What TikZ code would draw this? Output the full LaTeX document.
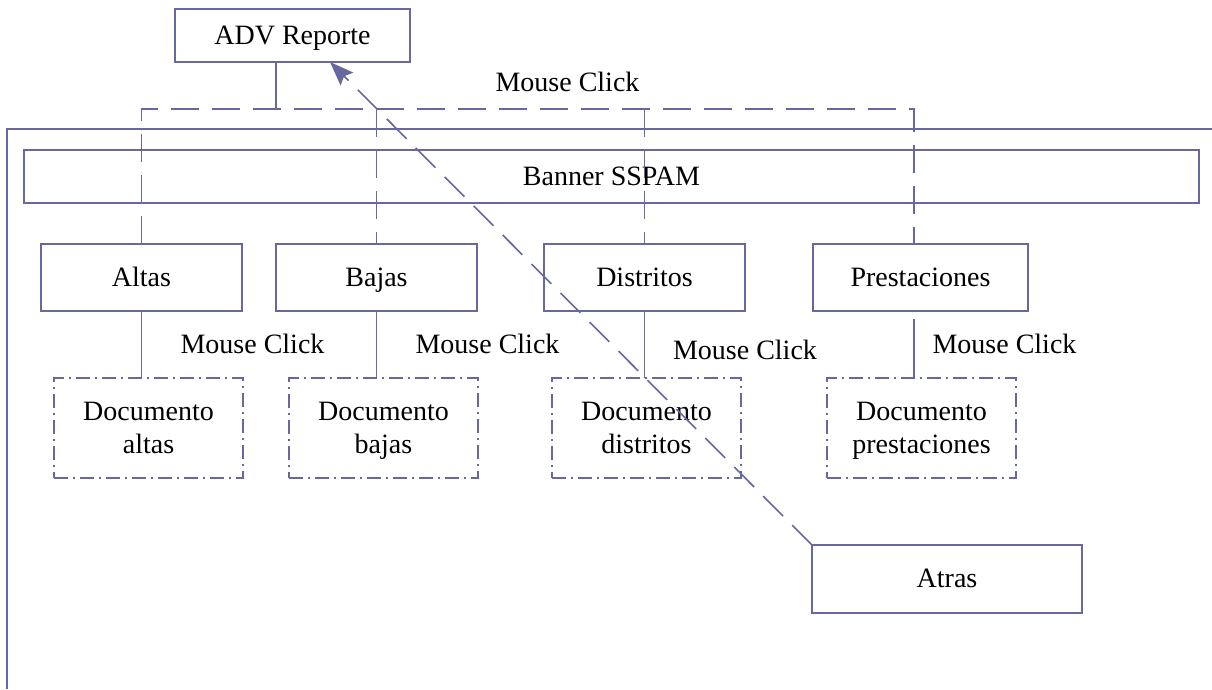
\documentclass[tikz,border=0pt]{standalone}
\usepackage{fontspec}
\setmainfont{Liberation Serif}
\usetikzlibrary{positioning,arrows.meta}

\definecolor{linea}{RGB}{104,104,160}

\tikzset{
  caja/.style={draw=linea, line width=1.5pt, inner sep=0pt, outer sep=0pt,
    align=center, minimum height=67pt, text height=19pt, text depth=2pt},
  doc/.style={caja, minimum width=189pt, minimum height=100pt,
    text height=56pt, text depth=6pt,
    dash pattern=on 14pt off 5pt on 2pt off 5pt},
  enlace/.style={draw=linea, line width=1.6pt},
  bus/.style={enlace, dash pattern=on 28pt off 13pt},
  clic/.style={inner sep=0pt}
}

\begin{document}
\begin{tikzpicture}[x=1pt,y=-1pt,font=\fontsize{28}{32.5}\selectfont]

  \useasboundingbox (0,0) rectangle (1212,689);

  % Frame

  \coordinate (marco_der) at (1212,129);
  \coordinate (marco_inf) at (7,689);
  \draw[enlace] (marco_der) -| (marco_inf);

  % Nodes

  \node[caja,minimum width=235pt,minimum height=53pt] (adv) at (292.5,35.5) {ADV Reporte};
  \node[caja,minimum width=1175pt,minimum height=53pt] (banner) at (611.5,176.5) {Banner SSPAM};

  \node[caja,minimum width=201pt] (altas) at (141.5,277.5) {Altas};
  \node[caja,minimum width=201pt,right=34pt of altas] (bajas) {Bajas};
  \node[caja,minimum width=201pt,right=67pt of bajas] (distritos) {Distritos};
  \node[caja,minimum width=215pt,right=68pt of distritos] (prestaciones) {Prestaciones};

  \node[doc] (doc_altas) at (148.5,428) {Documento\\altas};
  \node[doc,right=46pt of doc_altas] (doc_bajas) {Documento\\bajas};
  \node[doc,right=74pt of doc_bajas] (doc_distritos) {Documento\\distritos};
  \node[doc,right=86pt of doc_distritos] (doc_prestaciones) {Documento\\prestaciones};

  \node[caja,minimum width=270pt,minimum height=68pt] (atras) at (947,579) {Atras};

  % Labels

  \node[clic] (clic_adv) at (567.5,82) {Mouse Click};
  \node[clic] (clic_altas) at (252.5,344) {Mouse Click};
  \node[clic] (clic_bajas) at (487.5,344) {Mouse Click};
  \node[clic] (clic_distritos) at (745,350) {Mouse Click};
  \node[clic] (clic_prestaciones) at (1004.5,344) {Mouse Click};

  % Edges

  \coordinate (bus_adv) at (276,109);
  \coordinate (bus_izq) at (141,109);
  \coordinate (bus_der) at (914,109);
  \coordinate (prest_sal) at (914,319);

  \draw[enlace] (adv.south -| bus_adv) -- (bus_adv);
  \draw[bus] (altas.north) -- (altas.north |- bus_izq) -- (bus_der) -- (bus_der |- prestaciones.north);
  \draw[bus] (bus_izq -| bajas.north) -- (bajas.north);
  \draw[bus] (bus_izq -| distritos.north) -- (distritos.north);

  \draw[enlace] (altas.south) -- (altas.south |- doc_altas.north);
  \draw[enlace] (bajas.south) -- (bajas.south |- doc_bajas.north);
  \draw[enlace] (distritos.south) -- (distritos.south |- doc_distritos.north);
  \draw[enlace] (prest_sal) -- (prest_sal |- doc_prestaciones.north);

  \draw[bus,-{Stealth[length=24pt,width=18pt,inset=4pt]}] (atras.north west) -- ([xshift=37.5pt]adv.south);

\end{tikzpicture}
\end{document}
